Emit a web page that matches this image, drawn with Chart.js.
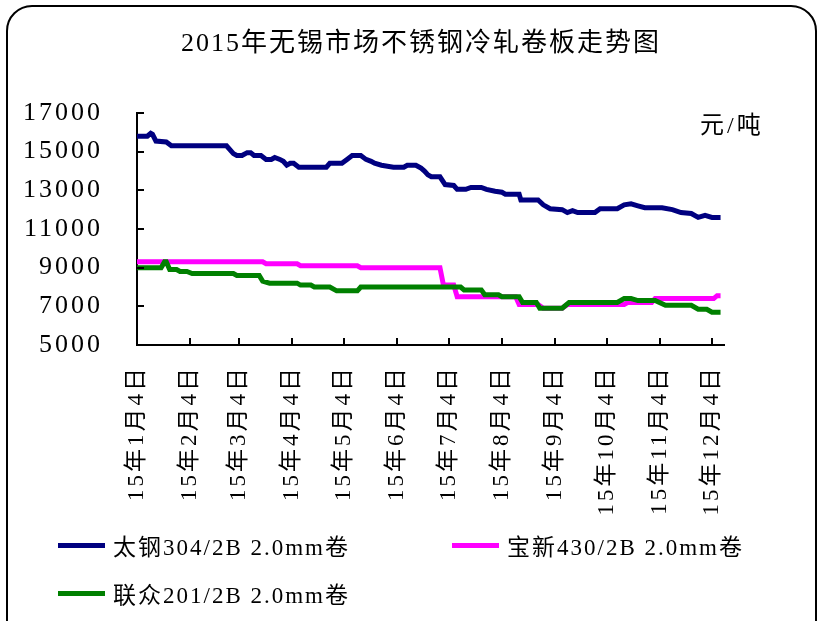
<!DOCTYPE html>
<html>
<head>
<meta charset="utf-8">
<script src="https://cdn.jsdelivr.net/npm/chart.js@4/dist/chart.umd.min.js"></script>
<style>
  html, body { margin: 0; padding: 0; background: #fff; overflow: hidden; }
  #wrap { position: relative; width: 822px; height: 621px; }
  #frame { position: absolute; left: 6px; top: 5px; width: 811px; height: 700px;
           box-sizing: border-box; border: 2px solid #000; border-radius: 26px; pointer-events: none; }
  #title { position: absolute; left: 0; width: 842px; top: 21px; text-align: center;
           font: 26px "Liberation Serif", "Noto Sans CJK SC"; letter-spacing: 2px; color: #000; }
  #unit { position: absolute; left: 700px; top: 105px;
          font: 24px "Liberation Serif", "Noto Sans CJK SC"; letter-spacing: 3px; color: #000; }
  .legend-item { position: absolute; height: 30px; display: flex; align-items: center;
                 font: 23px "Liberation Serif", "Noto Sans CJK SC"; letter-spacing: 2px; color: #000; white-space: nowrap; }
  .legend-item span.swatch { display: inline-block; width: 47px; height: 5px; margin-right: 8px; }
  canvas { position: absolute; left: 0; top: 0; }
</style>
</head>
<body>
<div id="wrap">
  <canvas id="priceChart" width="822" height="621"></canvas>
  <div id="title">2015年无锡市场不锈钢冷轧卷板走势图</div>
  <div id="unit">元/吨</div>
  <div id="legend"></div>
  <div id="frame"></div>
</div>
<script>
// x values are day of year 2015 (Jan 4 = 4)
const tickDays = [4, 35, 63, 94, 124, 155, 185, 216, 247, 277, 308, 338];
const tickLabels = ['15年1月4日', '15年2月4日', '15年3月4日', '15年4月4日', '15年5月4日', '15年6月4日',
                    '15年7月4日', '15年8月4日', '15年9月4日', '15年10月4日', '15年11月4日', '15年12月4日'];

const seriesNames = ['太钢304/2B 2.0mm卷', '宝新430/2B 2.0mm卷', '联众201/2B 2.0mm卷'];

const taigangDays = [4, 10, 12, 13, 15, 21, 24, 56, 60, 62, 65, 68, 70, 72, 76, 79, 82, 84, 87, 89, 91, 93, 95, 98,
                     114, 116, 123, 126, 129, 134, 137, 140, 142, 146, 153, 159, 161, 166, 169, 171, 173, 175, 180,
                     183, 188, 190, 195, 198, 204, 207, 212, 216, 218, 226, 227, 237, 240, 244, 251, 254, 257, 260,
                     270, 273, 283, 287, 291, 295, 299, 309, 315, 320, 326, 330, 334, 338, 343];
const taigangPrices = [15800, 15800, 15950, 15900, 15550, 15500, 15300, 15300, 14900, 14800, 14800, 14950, 14950,
                       14800, 14800, 14600, 14600, 14700, 14600, 14500, 14300, 14400, 14400, 14200, 14200, 14400,
                       14400, 14600, 14800, 14800, 14600, 14500, 14400, 14300, 14200, 14200, 14300, 14300, 14150,
                       14000, 13800, 13700, 13700, 13300, 13250, 13050, 13050, 13150, 13150, 13050, 12950, 12900,
                       12800, 12800, 12500, 12500, 12250, 12050, 12000, 11850, 11950, 11850, 11850, 12050, 12050,
                       12250, 12300, 12200, 12100, 12100, 12000, 11850, 11800, 11600, 11700, 11600, 11600];

const baoxinDays = [4, 77, 79, 97, 99, 132, 134, 180, 182, 188, 190, 224, 226, 237, 240, 251, 254, 287, 289,
                    303, 305, 339, 341, 343];
const baoxinPrices = [9300, 9300, 9200, 9200, 9100, 9100, 9000, 9000, 8100, 8100, 7500, 7500, 7100, 7100, 6900,
                      6900, 7100, 7100, 7200, 7200, 7400, 7400, 7550, 7550];

const lianzhongDays = [4, 18, 20, 21, 23, 27, 29, 33, 36, 60, 62, 75, 77, 81, 97, 99, 105, 107, 116, 120, 132, 134,
                       192, 194, 204, 206, 214, 216, 226, 228, 236, 238, 251, 255, 283, 287, 291, 295, 305, 311,
                       326, 330, 335, 338, 343];
const lianzhongPrices = [9000, 9000, 9300, 9300, 8900, 8900, 8800, 8800, 8700, 8700, 8600, 8600, 8300, 8200, 8200,
                         8100, 8100, 8000, 8000, 7800, 7800, 8000, 8000, 7850, 7850, 7600, 7600, 7500, 7500, 7200,
                         7200, 6900, 6900, 7200, 7200, 7400, 7400, 7300, 7300, 7050, 7050, 6850, 6850, 6700, 6700];

const seriesColors = ['#000080', '#FF00FF', '#008000'];

function toPoints(days, prices) {
    return days.map((d, i) => ({ x: d, y: prices[i] }));
}

// inward tick marks, like the original
const innerTicks = {
    id: 'innerTicks',
    beforeDraw(chart) {
        chart.ctx.letterSpacing = '3px';
    },
    beforeDatasetsDraw(chart) {
        chart.ctx.letterSpacing = '0px';
    },
    afterDraw(chart) {
        const ctx = chart.ctx;
        const area = chart.chartArea;
        ctx.save();
        ctx.strokeStyle = '#000';
        ctx.lineWidth = 2;
        ctx.beginPath();
        chart.scales.y.ticks.forEach(t => {
            const y = Math.round(chart.scales.y.getPixelForValue(t.value));
            ctx.moveTo(area.left, y);
            ctx.lineTo(area.left + 7, y);
        });
        chart.scales.x.ticks.forEach(t => {
            const x = Math.round(chart.scales.x.getPixelForValue(t.value));
            ctx.moveTo(x, area.bottom);
            ctx.lineTo(x, area.bottom - 7);
        });
        ctx.stroke();
        ctx.restore();
    }
};

let priceChart;

function initPriceChart() {
    const ctx = document.getElementById('priceChart').getContext('2d');
    priceChart = new Chart(ctx, {
        type: 'line',
        data: {
            datasets: [
                {
                    label: seriesNames[0],
                    data: toPoints(taigangDays, taigangPrices),
                    borderColor: seriesColors[0],
                    borderWidth: 5,
                    pointRadius: 0,
                    tension: 0,
                    fill: false
                },
                {
                    label: seriesNames[1],
                    data: toPoints(baoxinDays, baoxinPrices),
                    borderColor: seriesColors[1],
                    borderWidth: 5,
                    pointRadius: 0,
                    tension: 0,
                    fill: false
                },
                {
                    label: seriesNames[2],
                    data: toPoints(lianzhongDays, lianzhongPrices),
                    borderColor: seriesColors[2],
                    borderWidth: 5,
                    pointRadius: 0,
                    tension: 0,
                    fill: false,
                    order: -1
                }
            ]
        },
        options: {
            responsive: false,
            animation: false,
            layout: {
                padding: { top: 113, right: 98, bottom: 106, left: 0 }
            },
            plugins: {
                legend: { display: false },
                tooltip: { enabled: false }
            },
            scales: {
                x: {
                    type: 'linear',
                    min: 4,
                    max: 345,
                    afterBuildTicks: function(scale) {
                        scale.ticks = tickDays.map(d => ({ value: d }));
                    },
                    afterFit: function(scale) {
                        scale.height = 170;
                    },
                    grid: { display: false, drawTicks: false },
                    border: { display: true, color: '#000', width: 2 },
                    ticks: {
                        autoSkip: false,
                        minRotation: 90,
                        maxRotation: 90,
                        padding: 20,
                        color: '#000',
                        font: { family: '"Liberation Serif", "Noto Sans CJK SC"', size: 23 },
                        callback: function(value, index) {
                            return tickLabels[index];
                        }
                    }
                },
                y: {
                    min: 5000,
                    max: 17000,
                    afterFit: function(scale) {
                        scale.width = 137;
                    },
                    grid: { display: false, drawTicks: false },
                    border: { display: true, color: '#000', width: 2 },
                    ticks: {
                        stepSize: 2000,
                        padding: 34,
                        color: '#000',
                        font: { family: '"Liberation Serif", "Noto Sans CJK SC"', size: 26 },
                        callback: function(value) {
                            return String(value);
                        }
                    }
                }
            }
        },
        plugins: [innerTicks]
    });
}

// legend built from the chart's datasets
function buildLegend() {
    const spots = [[58, 530], [452, 530], [58, 578]];
    const box = document.getElementById('legend');
    priceChart.data.datasets.forEach((ds, i) => {
        const item = document.createElement('div');
        item.className = 'legend-item';
        item.style.left = spots[i][0] + 'px';
        item.style.top = spots[i][1] + 'px';
        const sw = document.createElement('span');
        sw.className = 'swatch';
        sw.style.background = ds.borderColor;
        item.appendChild(sw);
        item.appendChild(document.createTextNode(ds.label));
        box.appendChild(item);
    });
}

document.addEventListener('DOMContentLoaded', function() {
    initPriceChart();
    buildLegend();
});
</script>
</body>
</html>
